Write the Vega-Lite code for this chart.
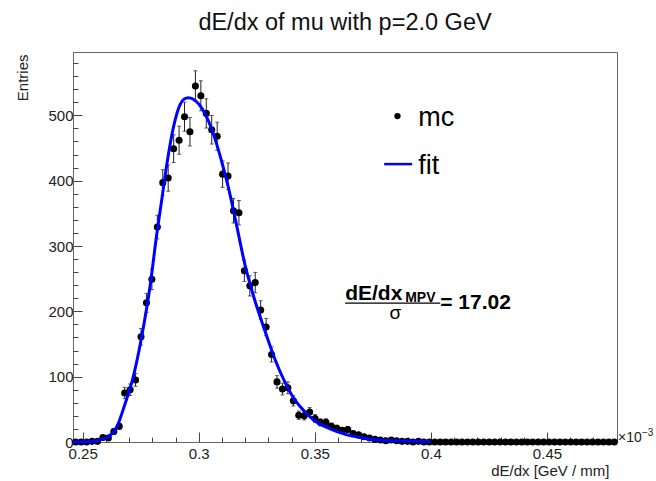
{
  "$schema": "https://vega.github.io/schema/vega-lite/v6.json",
  "width": 544,
  "height": 390,
  "autosize": "none",
  "padding": {"left": 73, "top": 52, "right": 39, "bottom": 39},
  "background": "white",
  "config": {
    "font": "Liberation Sans",
    "view": {"stroke": "#666", "strokeWidth": 1},
    "axis": {"grid": false, "domainColor": "#666", "tickColor": "#444", "labelColor": "#222", "titleColor": "#222", "labelFont": "Liberation Sans", "titleFont": "Liberation Sans", "titleFontWeight": "normal"}
  },
  "title": {"text": "dE/dx of mu with p=2.0 GeV", "fontSize": 23.5, "fontWeight": "normal", "font": "Liberation Sans", "color": "#111", "anchor": "middle", "offset": 18},
  "resolve": {"axis": {"x": "independent", "y": "independent"}},
  "datasets": {
    "hist": [
      {"x":0.24699,"n":0,"err":0},{"x":0.24934,"n":0,"err":0},{"x":0.25168,"n":0,"err":0},{"x":0.25402,"n":1,"err":1},{"x":0.25637,"n":1,"err":1},
      {"x":0.25871,"n":7,"err":2.6},{"x":0.26105,"n":6,"err":2.4},{"x":0.2634,"n":16,"err":4},{"x":0.26574,"n":24,"err":4.9},{"x":0.26808,"n":75,"err":8.7},
      {"x":0.27043,"n":80,"err":8.9},{"x":0.27277,"n":95,"err":9.7},{"x":0.27512,"n":161,"err":12.7},{"x":0.27746,"n":213,"err":14.6},{"x":0.2798,"n":249,"err":15.8},
      {"x":0.28215,"n":329,"err":18.1},{"x":0.28449,"n":397,"err":19.9},{"x":0.28683,"n":404,"err":20.1},{"x":0.28918,"n":449,"err":21.2},{"x":0.29152,"n":462,"err":21.5},
      {"x":0.29386,"n":498,"err":22.3},{"x":0.29621,"n":475,"err":21.8},{"x":0.29855,"n":545,"err":23.3},{"x":0.3009,"n":530,"err":23},{"x":0.30324,"n":503,"err":22.4},
      {"x":0.30558,"n":478,"err":21.9},{"x":0.30793,"n":468,"err":21.6},{"x":0.31027,"n":410,"err":20.2},{"x":0.31261,"n":407,"err":20.2},{"x":0.31496,"n":354,"err":18.8},
      {"x":0.3173,"n":351,"err":18.7},{"x":0.31964,"n":262,"err":16.2},{"x":0.32199,"n":239,"err":15.5},{"x":0.32433,"n":244,"err":15.6},{"x":0.32668,"n":202,"err":14.2},
      {"x":0.32902,"n":176,"err":13.3},{"x":0.33136,"n":134,"err":11.6},{"x":0.33371,"n":92,"err":9.6},{"x":0.33605,"n":81,"err":9},{"x":0.33839,"n":83,"err":9.1},
      {"x":0.34074,"n":63,"err":7.9},{"x":0.34308,"n":41,"err":6.4},{"x":0.34542,"n":40,"err":6.3},{"x":0.34777,"n":46,"err":6.8},{"x":0.35011,"n":36,"err":6},
      {"x":0.35246,"n":30,"err":5.5},{"x":0.3548,"n":30,"err":5.5},{"x":0.35714,"n":24,"err":4.9},{"x":0.35949,"n":21,"err":4.6},{"x":0.36183,"n":18,"err":4.2},
      {"x":0.36417,"n":19,"err":4.4},{"x":0.36652,"n":13,"err":3.6},{"x":0.36886,"n":11,"err":3.3},{"x":0.3712,"n":8,"err":2.8},{"x":0.37355,"n":6,"err":2.4},
      {"x":0.37589,"n":4,"err":2},{"x":0.37824,"n":3,"err":1.7},{"x":0.38058,"n":2,"err":1.4},{"x":0.38292,"n":3,"err":1.7},{"x":0.38527,"n":2,"err":1.4},
      {"x":0.38761,"n":1,"err":1},{"x":0.38995,"n":1,"err":1},{"x":0.3923,"n":0,"err":0},{"x":0.39464,"n":1,"err":1},{"x":0.39698,"n":0,"err":0},
      {"x":0.39933,"n":0,"err":0},{"x":0.40167,"n":0,"err":0},{"x":0.40402,"n":0,"err":0},{"x":0.40636,"n":0,"err":0},{"x":0.4087,"n":0,"err":0},
      {"x":0.41105,"n":0,"err":0},{"x":0.41339,"n":0,"err":0},{"x":0.41573,"n":0,"err":0},{"x":0.41808,"n":0,"err":0},{"x":0.42042,"n":0,"err":0},
      {"x":0.42276,"n":0,"err":0},{"x":0.42511,"n":0,"err":0},{"x":0.42745,"n":0,"err":0},{"x":0.4298,"n":0,"err":0},{"x":0.43214,"n":0,"err":0},
      {"x":0.43448,"n":0,"err":0},{"x":0.43683,"n":0,"err":0},{"x":0.43917,"n":0,"err":0},{"x":0.44151,"n":0,"err":0},{"x":0.44386,"n":0,"err":0},
      {"x":0.4462,"n":0,"err":0},{"x":0.44854,"n":0,"err":0},{"x":0.45089,"n":0,"err":0},{"x":0.45323,"n":0,"err":0},{"x":0.45558,"n":0,"err":0},
      {"x":0.45792,"n":0,"err":0},{"x":0.46026,"n":0,"err":0},{"x":0.46261,"n":0,"err":0},{"x":0.46495,"n":0,"err":0},{"x":0.46729,"n":0,"err":0},
      {"x":0.46964,"n":0,"err":0},{"x":0.47198,"n":0,"err":0},{"x":0.47432,"n":0,"err":0},{"x":0.47667,"n":0,"err":0},{"x":0.47901,"n":0,"err":0}
    ],
    "fit": [
      {"x":0.2458,"f":0},{"x":0.25,"f":0.2},{"x":0.2545,"f":1},{"x":0.258,"f":4},{"x":0.261,"f":8},{"x":0.2647,"f":23},
      {"x":0.2682,"f":58},{"x":0.2718,"f":100},{"x":0.2754,"f":161},{"x":0.279,"f":238},{"x":0.2819,"f":318},{"x":0.2841,"f":372},
      {"x":0.2862,"f":424},{"x":0.2891,"f":482},{"x":0.2919,"f":516},{"x":0.2937,"f":525},{"x":0.2955,"f":527},{"x":0.2984,"f":523},
      {"x":0.3013,"f":511},{"x":0.3041,"f":492},{"x":0.307,"f":464},{"x":0.3099,"f":429},{"x":0.3128,"f":389},{"x":0.3157,"f":342},
      {"x":0.32,"f":270},{"x":0.3243,"f":215},{"x":0.3286,"f":169},{"x":0.3329,"f":126},{"x":0.3372,"f":91},{"x":0.3415,"f":64},
      {"x":0.3458,"f":46},{"x":0.3494,"f":34},{"x":0.3566,"f":20},{"x":0.3638,"f":11},{"x":0.371,"f":6},{"x":0.3783,"f":3},
      {"x":0.3897,"f":1.5},{"x":0.3997,"f":0.8}
    ]
  },
  "layer": [
    {
      "data": {"name": "hist"},
      "mark": {"type": "errorbar", "color": "#222", "thickness": 1, "ticks": {"size": 4, "color": "#222"}},
      "encoding": {
        "x": {"field": "x", "type": "quantitative", "axis": null},
        "y": {"field": "n", "type": "quantitative", "axis": null},
        "yError": {"field": "err"}
      }
    },
    {
      "data": {"name": "hist"},
      "mark": {"type": "point", "filled": true, "color": "#000", "opacity": 1, "size": 50},
      "encoding": {
        "x": {"field": "x", "type": "quantitative", "scale": {"domain": [0.24582, 0.48017], "nice": false, "zero": false},
          "axis": {"orient": "bottom", "title": "dE/dx [GeV / mm]", "titleFontSize": 15, "titleAlign": "right", "titleBaseline": "alphabetic", "titleX": 536, "titleY": 33,
            "values": [0.25,0.3,0.35,0.4,0.45],
            "labelExpr": "format(datum.value, '~g')",
            "labelFontSize": 15, "labelOverlap": false, "labelFlush": false,
            "tickSize": -10, "labelPadding": 14}},
        "y": {"field": "n", "type": "quantitative", "scale": {"domain": [0, 597], "nice": false},
          "axis": {"orient": "left", "title": "Entries", "titleFontSize": 15, "titleAngle": -90, "titleAlign": "right", "titleBaseline": "middle", "titleX": -50.5, "titleY": 2,
            "values": [0,100,200,300,400,500],
            "labelFontSize": 15, "labelOverlap": false, "labelFlush": false,
            "tickSize": -9, "labelPadding": 9}}
      }
    },
    {
      "data": {"name": "fit"},
      "mark": {"type": "line", "color": "#0000ff", "strokeWidth": 3, "interpolate": "monotone"},
      "encoding": {
        "x": {"field": "x", "type": "quantitative",
          "axis": {"orient": "bottom", "title": null, "labels": false, "domain": false, "tickSize": -5,
            "values": [0.26,0.27,0.28,0.29,0.31,0.32,0.33,0.34,0.36,0.37,0.38,0.39,0.41,0.42,0.43,0.44,0.46,0.47,0.48]}},
        "y": {"field": "f", "type": "quantitative",
          "axis": {"orient": "left", "title": null, "labels": false, "domain": false, "tickSize": -5,
            "values": [20,40,60,80,120,140,160,180,220,240,260,280,320,340,360,380,420,440,460,480,520,540,560,580]}}
      }
    },
    {
      "data": {"values": [{}]},
      "mark": {"type": "point", "filled": true, "color": "#000", "opacity": 1, "size": 40},
      "encoding": {"x": {"datum": 0.3856, "type": "quantitative", "axis": null}, "y": {"datum": 498.9, "type": "quantitative", "axis": null}}
    },
    {
      "data": {"values": [{}]},
      "mark": {"type": "text", "text": "mc", "fontSize": 27, "align": "left", "baseline": "middle", "color": "#000"},
      "encoding": {"x": {"datum": 0.39453, "type": "quantitative", "axis": null}, "y": {"datum": 495.8, "type": "quantitative", "axis": null}}
    },
    {
      "data": {"values": [{}]},
      "mark": {"type": "rule", "color": "#0000ff", "strokeWidth": 2.5},
      "encoding": {"x": {"datum": 0.37987, "type": "quantitative", "axis": null}, "x2": {"datum": 0.39194}, "y": {"datum": 425.4, "type": "quantitative", "axis": null}}
    },
    {
      "data": {"values": [{}]},
      "mark": {"type": "text", "text": "fit", "fontSize": 27, "align": "left", "baseline": "middle", "color": "#000"},
      "encoding": {"x": {"datum": 0.39453, "type": "quantitative", "axis": null}, "y": {"datum": 422.3, "type": "quantitative", "axis": null}}
    },
    {
      "data": {"values": [{}]},
      "mark": {"type": "text", "text": "dE/dx", "fontSize": 21, "fontWeight": "bold", "align": "left", "baseline": "alphabetic", "color": "#000"},
      "encoding": {"x": {"datum": 0.36306, "type": "quantitative", "axis": null}, "y": {"datum": 217.3, "type": "quantitative", "axis": null}}
    },
    {
      "data": {"values": [{}]},
      "mark": {"type": "text", "text": "MPV", "fontSize": 14, "fontWeight": "bold", "align": "left", "baseline": "alphabetic", "color": "#000"},
      "encoding": {"x": {"datum": 0.38892, "type": "quantitative", "axis": null}, "y": {"datum": 214, "type": "quantitative", "axis": null}}
    },
    {
      "data": {"values": [{}]},
      "mark": {"type": "rule", "color": "#000", "strokeWidth": 1.2},
      "encoding": {"x": {"datum": 0.36306, "type": "quantitative", "axis": null}, "x2": {"datum": 0.40401}, "y": {"datum": 212.7, "type": "quantitative", "axis": null}}
    },
    {
      "data": {"values": [{}]},
      "mark": {"type": "text", "text": "σ", "fontSize": 19, "align": "center", "baseline": "alphabetic", "color": "#000"},
      "encoding": {"x": {"datum": 0.38466, "type": "quantitative", "axis": null}, "y": {"datum": 188.2, "type": "quantitative", "axis": null}}
    },
    {
      "data": {"values": [{}]},
      "mark": {"type": "text", "text": "= 17.02", "fontSize": 21, "fontWeight": "bold", "align": "left", "baseline": "alphabetic", "color": "#000"},
      "encoding": {"x": {"datum": 0.40401, "type": "quantitative", "axis": null}, "y": {"datum": 203.5, "type": "quantitative", "axis": null}}
    },
    {
      "data": {"values": [{}]},
      "mark": {"type": "text", "text": "×10", "fontSize": 14, "align": "left", "baseline": "alphabetic", "color": "#222", "dx": 1, "dy": 0},
      "encoding": {"x": {"datum": 0.48017, "type": "quantitative", "axis": null}, "y": {"datum": 0, "type": "quantitative", "axis": null}}
    },
    {
      "data": {"values": [{}]},
      "mark": {"type": "text", "text": "−3", "fontSize": 10, "align": "left", "baseline": "alphabetic", "color": "#222", "dx": 25, "dy": -6},
      "encoding": {"x": {"datum": 0.48017, "type": "quantitative", "axis": null}, "y": {"datum": 0, "type": "quantitative", "axis": null}}
    }
  ]
}
